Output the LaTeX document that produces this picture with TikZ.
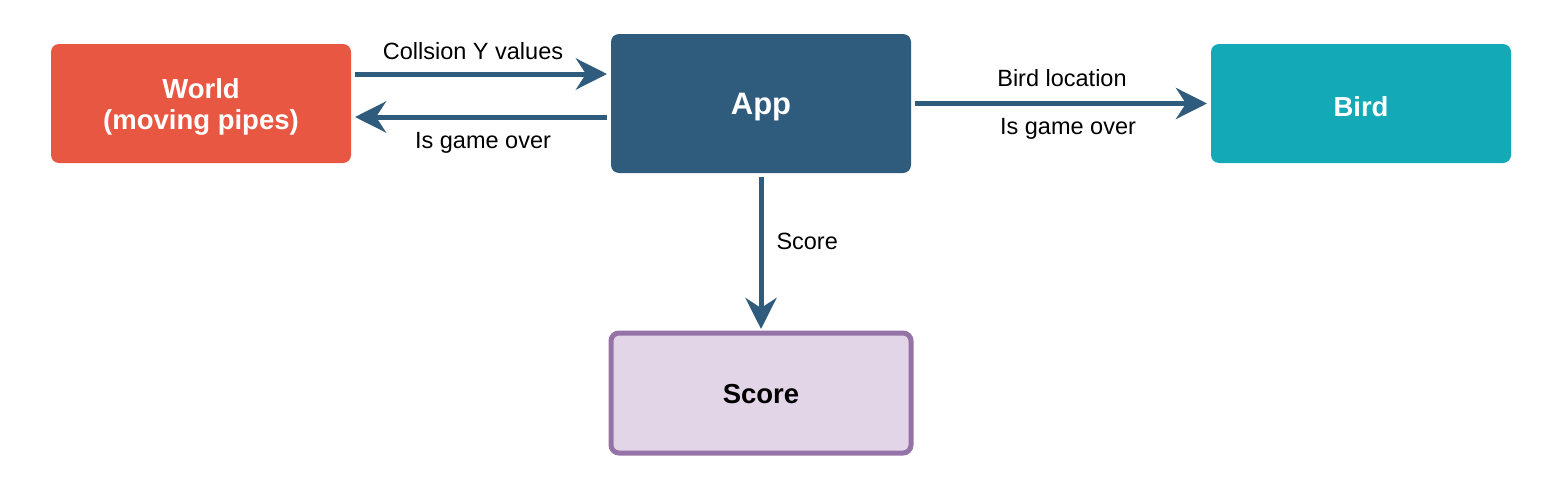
\documentclass[tikz,border=0pt]{standalone}
\usepackage{fontspec}
\setmainfont{Liberation Sans}
\usepackage{tikz}
\usepackage{xcolor}
\usetikzlibrary{arrows.meta}
\definecolor{world-red}{HTML}{E85742}
\definecolor{app-blue}{HTML}{2F5B7C}
\definecolor{bird-teal}{HTML}{13A9B6}
\definecolor{score-fill}{HTML}{E1D5E7}
\definecolor{score-line}{HTML}{9673A6}
\tikzset{
    flat-box/.style = {rectangle, rounded corners=8pt, minimum width=300pt, minimum height=119pt, outer sep=0pt, text=white, align=center, text height=20pt, text depth=0pt, font=\fontsize{27.5}{31}\selectfont\bfseries},
    score-box/.style = {flat-box, fill=score-fill, draw=score-line, line width=5pt, minimum height=120pt, text=black},
    flow-arrow/.style = {draw=app-blue, line width=5pt, -{Stealth[length=31pt, width=31pt, inset=10pt]}, shorten <=4pt, shorten >=4pt},
    flow-label/.style = {midway, inner sep=0pt, text height=16.8pt, text depth=0pt, text=black, font=\fontsize{23.5}{27}\selectfont},
}
\begin{document}
\begin{tikzpicture}[x=1pt, y=-1pt]
\useasboundingbox (0,0) rectangle (1553,498);
\node [flat-box, fill=world-red, text height=51pt] (world) at (201,103.5) {World\\(moving pipes)};
\node [flat-box, fill=app-blue, minimum height=139pt, text height=22pt, font=\fontsize{31}{35}\selectfont\bfseries] (app) at (761,103.5) {App};
\node [flat-box, fill=bird-teal, text height=25pt] (bird) at (1361,103.5) {Bird};
\node [score-box] (score) at (761,393) {Score};

\draw [flow-arrow] ([yshift=29.5pt]world.east) -- ([yshift=29.5pt]app.west)
    node [flow-label, xshift=-8pt, yshift=23pt] {Collsion Y values};
\draw [flow-arrow] ([yshift=-13.5pt]app.west) -- ([yshift=-13.5pt]world.east)
    node [flow-label, xshift=2pt, yshift=-23pt] {Is game over};
\draw [flow-arrow] (app.east) -- (bird.west)
    node [flow-label, xshift=1pt, yshift=25pt] {Bird location}
    node [flow-label, xshift=7pt, yshift=-23pt] {Is game over};
\draw [flow-arrow] (app.south) -- (score.north)
    node [flow-label, anchor=west, xshift=13pt, yshift=12pt] {Score};
\end{tikzpicture}
\end{document}
